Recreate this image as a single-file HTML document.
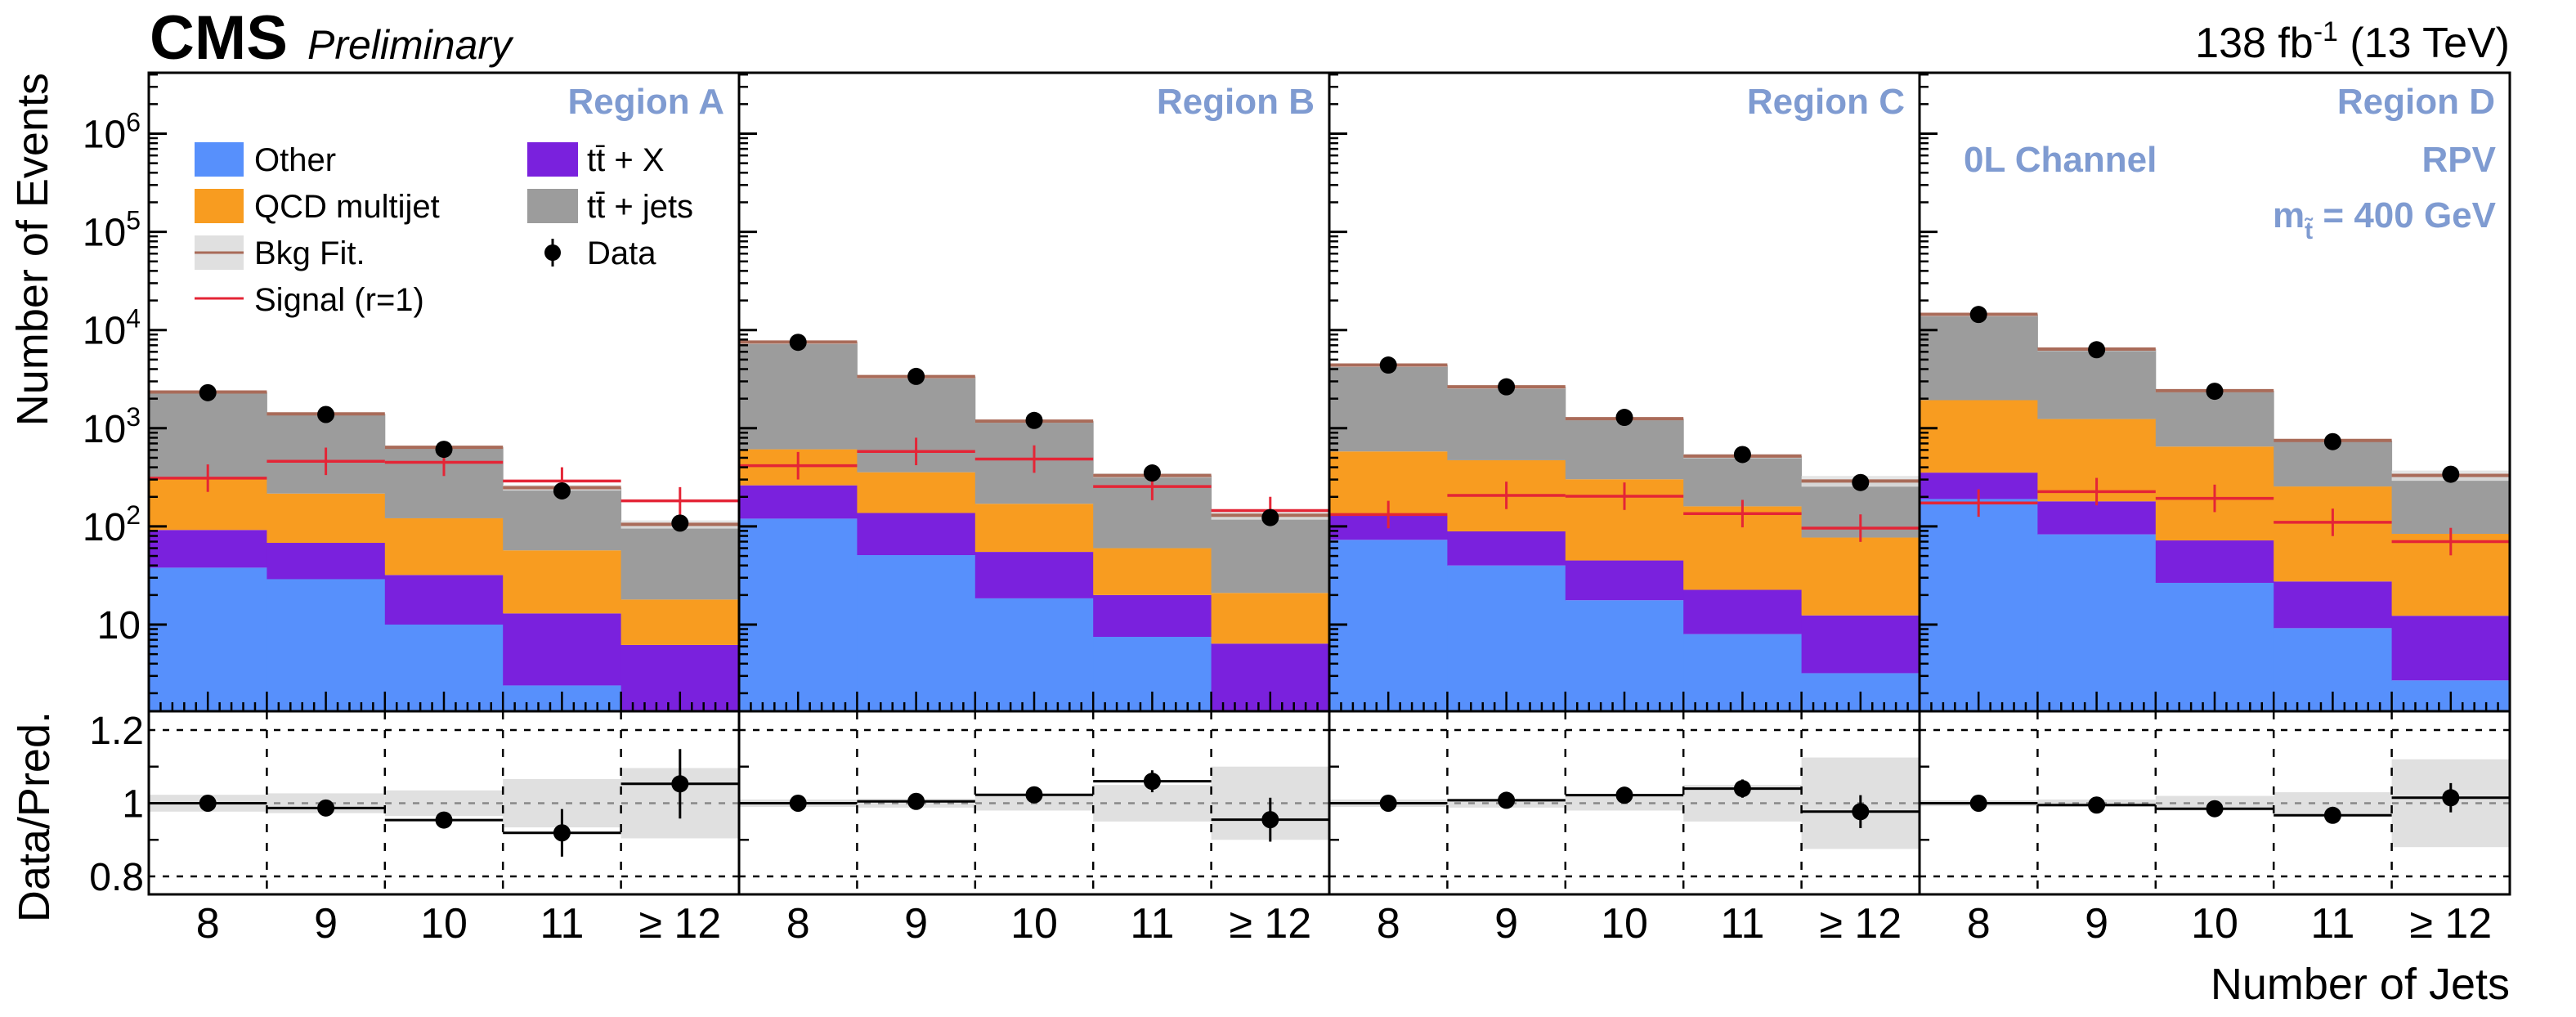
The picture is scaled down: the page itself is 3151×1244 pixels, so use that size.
<!DOCTYPE html>
<html><head><meta charset="utf-8"><style>
html,body{margin:0;padding:0;background:#fff;}
svg{display:block;font-family:"Liberation Sans",Arial,sans-serif;}
</style></head><body>
<svg id="chart" width="3151" height="1244" viewBox="0 0 3151 1244" xmlns="http://www.w3.org/2000/svg">
<g id="stack"></g>
<g id="marks"></g>
<g id="axes"></g>
<text x="183" y="72" font-size="76" font-weight="bold">CMS</text>
<text x="376" y="72" font-size="50" font-style="italic">Preliminary</text>
<text x="3070" y="70" font-size="52" text-anchor="end">138 fb<tspan dy="-20" font-size="34">-1</tspan><tspan dy="20"> (13 TeV)</tspan></text>
<text transform="translate(58,89) rotate(-90)" font-size="54" text-anchor="end">Number of Events</text>
<text transform="translate(60,870) rotate(-90)" font-size="54" text-anchor="end">Data/Pred.</text>
<text x="3070" y="1222" font-size="54" text-anchor="end">Number of Jets</text>
<g fill="#7f9bd1" font-weight="bold" font-size="44">
<text x="2402" y="210">0L Channel</text>
<text x="3053" y="210" text-anchor="end">RPV</text>
<text x="3053" y="278" text-anchor="end">m<tspan dy="14" font-size="30">t̃</tspan><tspan dy="-14"> = 400 GeV</tspan></text>
</g>
<g font-size="40">
<rect x="238" y="174" width="60" height="42" fill="#5790fc"/>
<text x="311" y="209">Other</text>
<rect x="238" y="231" width="60" height="42" fill="#f89c20"/>
<text x="311" y="266">QCD multijet</text>
<rect x="238" y="288" width="60" height="42" fill="#e0e0e0"/>
<line x1="238" y1="309" x2="298" y2="309" stroke="#a96b59" stroke-width="3"/>
<text x="311" y="323">Bkg Fit.</text>
<line x1="238" y1="365" x2="298" y2="365" stroke="#e42536" stroke-width="3"/>
<text x="311" y="380">Signal (r=1)</text>
<rect x="645" y="174" width="62" height="42" fill="#7a21dd"/>
<text x="718" y="209">tt̄ + X</text>
<rect x="645" y="231" width="62" height="42" fill="#9c9c9c"/>
<text x="718" y="266">tt̄ + jets</text>
<circle cx="676" cy="309" r="10" fill="#000"/>
<line x1="676" y1="292" x2="676" y2="326" stroke="#000" stroke-width="3"/>
<text x="718" y="323">Data</text>
</g>
</svg>
<script>
const regions=['Region A','Region B','Region C','Region D'];
const categories=['8','9','10','11','≥ 12'];
const otherVals=[[38,29,10,2.4,1],[120,51,18.5,7.5,1],[73,40,17.7,8,3.2],[190,83,26.6,9.2,2.7]];
const ttxVals=[[54,39,22,10.6,5.2],[142,86,36.5,12.5,5.4],[57,49,27.3,14.6,9.2],[163,97,45.4,18.3,9.6]];
const qcdVals=[[218,148,89,44,11.8],[348,219,115,40,14.6],[450,383,257,137.4,64.6],[1577,1060,578,227.5,71.7]];
const ttjetsVals=[[2030,1184,519,191,87],[6930,3004,1010,270,109],[3820,2168,948,360,213],[12520,5160,1760,495,247]];
const dataVals=[[2300,1380,610,230,108],[7500,3370,1200,350,123],[4400,2640,1290,540,280],[14400,6300,2380,730,340]];
const signalVals=[[310,460,450,290,182],[415,580,485,255,145],[132,207,203,135,96],[173,226,193,110,70]];
const ratioVals=[[1.0,0.987,0.954,0.919,1.053],[1.0,1.005,1.023,1.06,0.955],[1.0,1.008,1.022,1.04,0.977],[1.0,0.995,0.985,0.967,1.015]];
const ratioErrs=[[0.01,0.012,0.02,0.065,0.095],[0.005,0.008,0.013,0.03,0.06],[0.007,0.009,0.015,0.025,0.045],[0.004,0.006,0.01,0.02,0.04]];
const bandRel=[[0.023,0.027,0.035,0.066,0.096],[0.01,0.012,0.02,0.05,0.1],[0.01,0.012,0.02,0.05,0.125],[0.008,0.01,0.02,0.03,0.12]];
const signalErrDex=0.14;
const yTickExps=[1,2,3,4,5,6];
const ratioTicks=[0.8,1,1.2];

const NS='http://www.w3.org/2000/svg';
const L=182,PW=722,TOP=89,UB=870,LB=1094,NB=5,BW=PW/NB;
const YMIN=Math.pow(10,1-(UB-764)/120.1);
function y(v){return 764-(Math.log10(Math.max(v,YMIN))-1)*120.1;}
function yr(r){return 982.5-(r-1)*447.5;}
function xb(p,i){return L+p*PW+i*BW;}
function mk(parent,tag,attrs){const e=document.createElementNS(NS,tag);for(const k in attrs)e.setAttribute(k,attrs[k]);parent.appendChild(e);return e;}
const stack=document.getElementById('stack'),marks=document.getElementById('marks'),axes=document.getElementById('axes');
const comps=[[otherVals,'#5790fc','other'],[ttxVals,'#7a21dd','ttx'],[qcdVals,'#f89c20','qcd'],[ttjetsVals,'#9c9c9c','ttjets']];
for(let p=0;p<4;p++){
  for(let i=0;i<NB;i++){
    let cum=0;const x0=xb(p,i);
    comps.forEach(c=>{
      const lo=cum;cum+=c[0][p][i];
      const y1=y(cum),y0=lo===0?UB:y(lo);
      if(y0-y1>0){const r=mk(stack,'rect',{x:x0,y:y1,width:BW+0.5,height:y0-y1,fill:c[1]});
        
        }
    });
    const tot=cum,b=bandRel[p][i];
    const bd=mk(marks,'rect',{x:x0,y:y(tot*(1+b)),width:BW,height:Math.max(3,y(tot*(1-b))-y(tot*(1+b))),fill:'#e0e0e0',opacity:0.85});
    
    
    const fl=mk(marks,'line',{x1:x0,x2:x0+BW,y1:y(tot),y2:y(tot),stroke:'#a96b59','stroke-width':4});
    
    
    const cx=x0+BW/2,s=signalVals[p][i];
    const sl=mk(marks,'line',{x1:x0,x2:x0+BW,y1:y(s),y2:y(s),stroke:'#e42536','stroke-width':3.5});
    
    
    const se=mk(marks,'line',{x1:cx,x2:cx,y1:y(s*Math.pow(10,signalErrDex)),y2:y(s/Math.pow(10,signalErrDex)),stroke:'#e42536','stroke-width':3});
    
    
    const dp=mk(marks,'ellipse',{cx:cx,cy:y(dataVals[p][i]),rx:10.5,ry:10.5,fill:'#000'});
    
    
    // ratio
    const rb=mk(marks,'rect',{x:x0,y:yr(1+b),width:BW,height:yr(1-b)-yr(1+b),fill:'#e0e0e0'});
    
    
  }
  // ratio grid
  [1.2,0.8].forEach(r=>{const g=mk(marks,'line',{x1:L+p*PW,x2:L+(p+1)*PW,y1:yr(r),y2:yr(r),stroke:'#000','stroke-width':2.5,'stroke-dasharray':'8 9'});
    
    });
  const g1=mk(marks,'line',{x1:L+p*PW,x2:L+(p+1)*PW,y1:yr(1),y2:yr(1),stroke:'#888','stroke-width':2.5,'stroke-dasharray':'8 9'});
  
  
  for(let i=1;i<NB;i++){const v=mk(marks,'line',{x1:xb(p,i),x2:xb(p,i),y1:UB,y2:LB,stroke:'#000','stroke-width':2.5,'stroke-dasharray':'10 13'});
    
    }
  for(let i=0;i<NB;i++){
    const x0=xb(p,i),cx=x0+BW/2,r=ratioVals[p][i],e=ratioErrs[p][i];
    const rl=mk(marks,'line',{x1:x0,x2:x0+BW,y1:yr(r),y2:yr(r),stroke:'#000','stroke-width':3});
    
    
    const re=mk(marks,'line',{x1:cx,x2:cx,y1:yr(r+e),y2:yr(r-e),stroke:'#000','stroke-width':3});
    
    
    const rp=mk(marks,'circle',{cx:cx,cy:yr(r),r:10.5,fill:'#000'});
    
    
    const tl=mk(axes,'text',{x:cx,y:1147,'font-size':52,'text-anchor':'middle'});
    tl.textContent=categories[i];
    
    
  }
  // region label
  const rt=mk(axes,'text',{x:L+(p+1)*PW-18,y:139,'font-size':44,'font-weight':'bold',fill:'#7f9bd1','text-anchor':'end'});
  rt.textContent=regions[p];
  
  
  // y ticks (log)
  const px=L+p*PW;
  for(let d=0;d<=6;d++){for(let m=1;m<10;m++){const v=m*Math.pow(10,d);const yy=y(v);if(v<YMIN||yy<TOP)continue;
    const len=m===1?22:11;
    mk(axes,'line',{x1:px,x2:px+len,y1:yy,y2:yy,stroke:'#000','stroke-width':m===1?3:2.5});}}
  [1.1,0.9].forEach(r=>mk(axes,'line',{x1:px,x2:px+12,y1:yr(r),y2:yr(r),stroke:'#000','stroke-width':2.5}));
  // x ticks
  for(let k=0;k<=NB*10;k++){const xx=px+k*BW/10;const len=(k%5===0)?24:11;
    mk(axes,'line',{x1:xx,x2:xx,y1:UB,y2:UB-len,stroke:'#000','stroke-width':2.5});}
}
// frames
const fr=mk(axes,'rect',{x:L,y:TOP,width:4*PW,height:UB-TOP,fill:'none',stroke:'#000','stroke-width':3});


const fr2=mk(axes,'rect',{x:L,y:UB,width:4*PW,height:LB-UB,fill:'none',stroke:'#000','stroke-width':3});


for(let p=1;p<4;p++){const d=mk(axes,'line',{x1:L+p*PW,x2:L+p*PW,y1:TOP,y2:LB,stroke:'#000','stroke-width':3});
  
  }
// y tick labels
yTickExps.forEach(e=>{const t=mk(axes,'text',{x:172,y:y(Math.pow(10,e))+17,'font-size':48,'text-anchor':'end'});
  
  
  if(e===1){t.textContent='10';}else{t.textContent='10';const s=mk(t,'tspan',{dy:-20,'font-size':32});s.textContent=String(e);}});
ratioTicks.forEach(r=>{const t=mk(axes,'text',{x:176,y:yr(r)+17,'font-size':48,'text-anchor':'end'});
  t.textContent=String(r);
  
  });
</script>
</body></html>
